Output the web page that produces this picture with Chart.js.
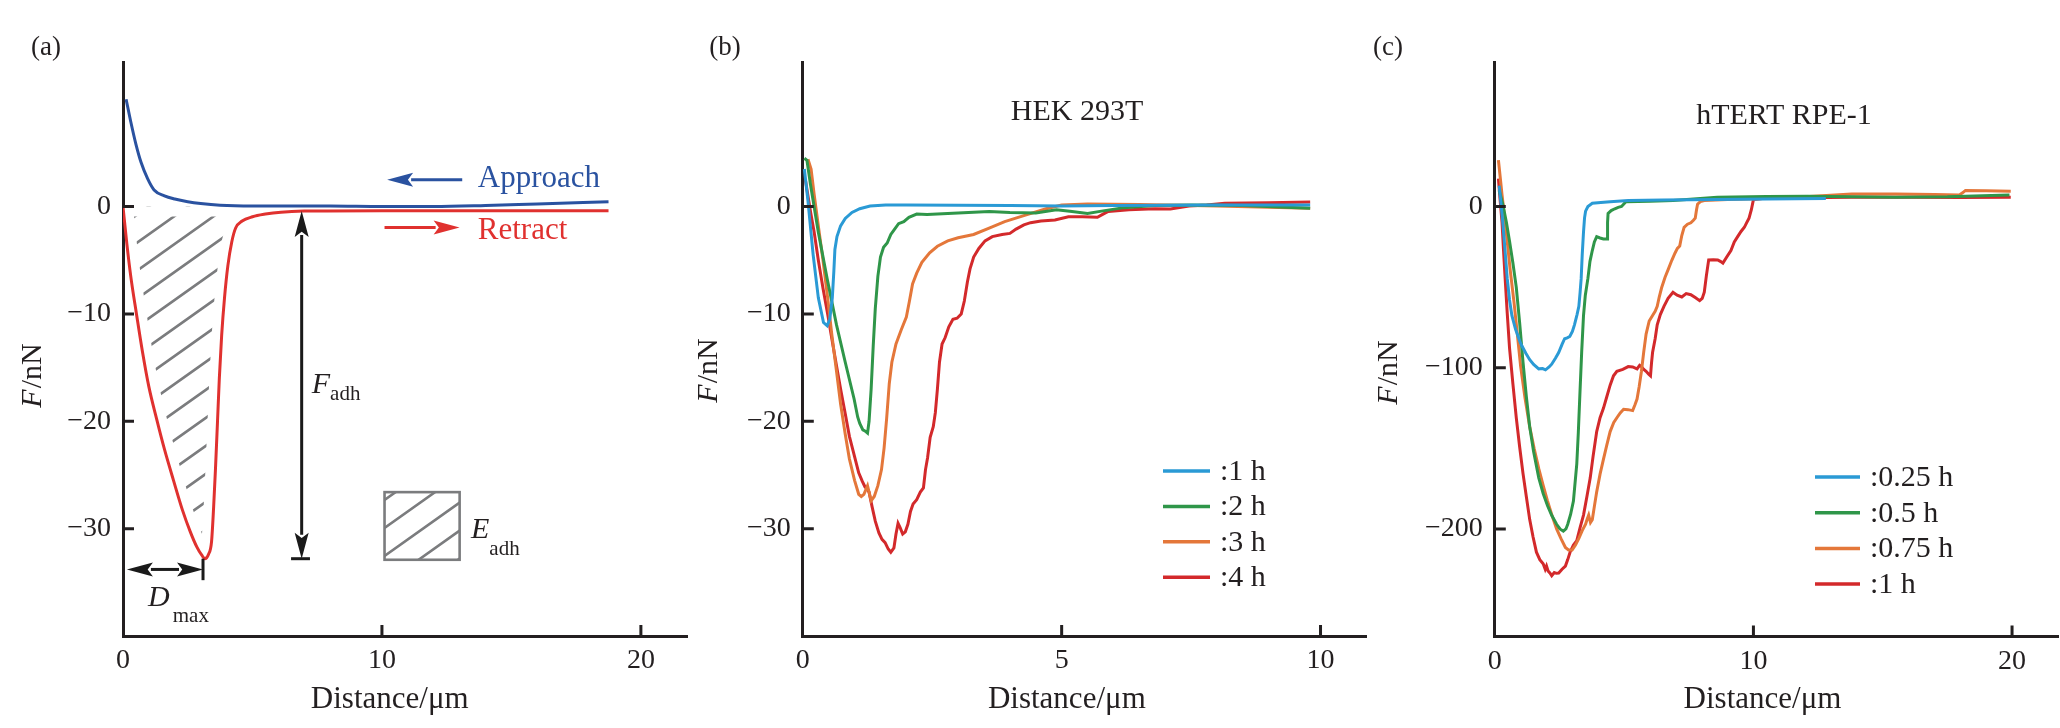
<!DOCTYPE html>
<html>
<head>
<meta charset="utf-8">
<script src="https://cdn.jsdelivr.net/npm/chart.js@4.4.1/dist/chart.umd.min.js"></script>
<style>
  body { margin: 0; background: #fff; width: 2060px; height: 728px; overflow: hidden; position: relative; }
  canvas { position: absolute; top: 0; }
</style>
</head>
<body>
<canvas id="panelA" width="700" height="728" style="left:0px"></canvas>
<canvas id="panelB" width="690" height="728" style="left:690px"></canvas>
<canvas id="panelC" width="690" height="728" style="left:1370px"></canvas>
<script>
const FONT = '"Liberation Serif", "Times New Roman", Times, serif';
const INK = '#231f20';
const HATCH = '#7b7c7e';

// ---- panel (a): schematic force curve ----
const aXTicks = [0, 10, 20];
const aYTicks = [0, -10, -20, -30];
const approachCurve = [[0.12, 10.0], [0.3, 7.9], [0.5, 5.8], [0.7, 4.1], [0.95, 2.6], [1.2, 1.55], [1.6, 1.0],
  [2.0, 0.7], [2.5, 0.45], [3.0, 0.28], [3.75, 0.12], [5, 0.05], [8, 0.05], [10, 0], [12, 0], [14, 0.1],
  [16, 0.25], [18.75, 0.45]];
const retractCurve = [[0, 0], [0.15, -3.5], [0.3, -6.5], [0.52, -10], [0.75, -13.5], [1.0, -16.8], [1.3, -19.8],
  [1.6, -22.6], [1.95, -25.5], [2.3, -28.3], [2.6, -30.3], [2.85, -31.7], [3.05, -32.5], [3.16, -32.8],
  [3.3, -32.4], [3.42, -31.2], [3.5, -28], [3.57, -24.5], [3.65, -20], [3.72, -16], [3.81, -12], [3.92, -8.5],
  [4.05, -5.5], [4.2, -3.3], [4.35, -2.0], [4.6, -1.35], [5.0, -0.95], [5.5, -0.7], [6.1, -0.52], [7.0, -0.42],
  [10, -0.38], [14, -0.38], [18.75, -0.38]];

// ---- panel (b): HEK 293T ----
const bXTicks = [0, 5, 10];
const bYTicks = [0, -10, -20, -30];
const hekLabels = [':1 h', ':2 h', ':3 h', ':4 h'];
const hek1h = [[0.03, 3.5], [0.1, 0.5], [0.2, -4.5], [0.3, -8.5], [0.4, -10.8], [0.47, -11.1], [0.52, -10.5],
  [0.57, -8.5], [0.6, -6.0], [0.62, -4.0], [0.66, -2.8], [0.73, -1.8], [0.82, -1.1], [0.95, -0.55], [1.1, -0.2],
  [1.3, 0.05], [1.6, 0.15], [2.0, 0.15], [3, 0.12], [4, 0.1], [5, 0.05], [6, 0.1], [7, 0.12], [8, 0.15],
  [9, 0.15], [9.8, 0.15]];
const hek2h = [[0.03, 4.5], [0.08, 4.3], [0.15, 2.0], [0.3, -2.4], [0.47, -6.7], [0.65, -11], [0.82, -14.5],
  [0.99, -17.9], [1.06, -19.6], [1.1, -20.2], [1.16, -20.8], [1.2, -20.9], [1.25, -21.1], [1.28, -20.0],
  [1.32, -17], [1.36, -13], [1.4, -9.5], [1.45, -6.5], [1.5, -4.7], [1.56, -3.8], [1.63, -3.4], [1.7, -2.6],
  [1.76, -2.2], [1.85, -1.6], [1.95, -1.4], [2.05, -1.0], [2.2, -0.7], [2.4, -0.75], [2.8, -0.65], [3.2, -0.55],
  [3.6, -0.45], [4.0, -0.55], [4.5, -0.6], [4.9, -0.3], [5.2, -0.45], [5.5, -0.65], [5.8, -0.4], [6.2, -0.1],
  [6.8, 0.1], [7.5, 0.15], [8.5, 0.1], [9.8, -0.15]];
const hek3h = [[0.1, 4.4], [0.16, 3.5], [0.22, 1.1], [0.3, -1.8], [0.39, -5], [0.48, -8.5], [0.56, -11.9],
  [0.65, -15.3], [0.73, -18.4], [0.82, -21.2], [0.9, -23.5], [1.0, -25.5], [1.08, -26.8], [1.13, -27.0],
  [1.18, -26.8], [1.25, -26.0], [1.29, -26.8], [1.32, -27.4], [1.38, -27.0], [1.45, -26.0], [1.52, -24.5],
  [1.57, -22.5], [1.62, -19.7], [1.67, -16.5], [1.72, -14.5], [1.8, -12.8], [1.9, -11.5], [2.0, -10.3],
  [2.06, -8.8], [2.12, -7.2], [2.2, -6.2], [2.3, -5.2], [2.45, -4.3], [2.6, -3.7], [2.8, -3.2], [3.0, -2.9],
  [3.3, -2.6], [3.6, -2.0], [3.9, -1.4], [4.3, -0.8], [4.7, -0.2], [5.0, 0.15], [5.5, 0.25], [6.5, 0.2],
  [8, 0.05], [9.8, -0.15]];
const hek4h = [[0.05, 2.5], [0.15, -0.5], [0.22, -2.4], [0.3, -5], [0.39, -7.6], [0.48, -10], [0.56, -12.3],
  [0.65, -14.8], [0.73, -17], [0.82, -19.3], [0.9, -21.4], [1.0, -23.3], [1.08, -24.8], [1.15, -25.6],
  [1.2, -26.1], [1.24, -26.3], [1.28, -26.6], [1.34, -28.0], [1.4, -29.3], [1.47, -30.4], [1.53, -31.0],
  [1.59, -31.3], [1.65, -31.9], [1.7, -32.2], [1.76, -31.8], [1.8, -30.5], [1.84, -29.5], [1.88, -29.9],
  [1.93, -30.5], [1.98, -30.3], [2.03, -29.6], [2.08, -28.4], [2.13, -27.7], [2.2, -27.3], [2.27, -26.6],
  [2.33, -26.2], [2.37, -24.5], [2.41, -23.4], [2.46, -21.5], [2.52, -20.5], [2.56, -19.2], [2.6, -17.0],
  [2.64, -14.5], [2.69, -12.8], [2.75, -12.2], [2.82, -11.2], [2.9, -10.5], [2.98, -10.4], [3.06, -10.0],
  [3.12, -8.8], [3.18, -7.0], [3.23, -5.8], [3.3, -4.7], [3.4, -3.9], [3.52, -3.2], [3.66, -2.8], [3.85, -2.6],
  [4.0, -2.5], [4.12, -2.1], [4.27, -1.7], [4.4, -1.5], [4.6, -1.35], [4.87, -1.25], [5.13, -0.95], [5.4, -0.95],
  [5.69, -1.0], [5.8, -0.7], [5.9, -0.45], [6.3, -0.3], [6.8, -0.2], [7.1, -0.22], [7.46, 0.05], [7.8, 0.15],
  [8.15, 0.3], [9, 0.35], [9.8, 0.42]];

// ---- panel (c): hTERT RPE-1 ----
const cXTicks = [0, 10, 20];
const cYTicks = [0, -100, -200];
const rpeLabels = [':0.25 h', ':0.5 h', ':0.75 h', ':1 h'];
const rpe025h = [[0.17, 13], [0.25, 0], [0.31, -10], [0.4, -28], [0.48, -44.6], [0.57, -58], [0.66, -67.6],
  [0.8, -76], [1.0, -85], [1.2, -91], [1.35, -95], [1.5, -98], [1.7, -100.7], [1.85, -100.5], [1.96, -101.3],
  [2.1, -99.5], [2.2, -97.8], [2.35, -94], [2.47, -90.6], [2.6, -85.5], [2.7, -82], [2.8, -81.5], [2.9, -80.6],
  [3.0, -77.5], [3.08, -73.4], [3.18, -67], [3.25, -61.9], [3.3, -53], [3.34, -44.6], [3.38, -30], [3.43, -15.8],
  [3.47, -7], [3.51, -2.9], [3.6, 0], [3.77, 2], [4.1, 2.5], [4.46, 2.9], [5.16, 3.7], [6.5, 4.0], [8.6, 4.3],
  [10.5, 4.6], [12.8, 4.9]];
const rpe05h = [[0.17, 10], [0.31, 1.4], [0.45, -10], [0.57, -21.6], [0.7, -35], [0.83, -50], [0.96, -72],
  [1.09, -96.4], [1.22, -118], [1.35, -136.7], [1.5, -152], [1.7, -168.3], [1.87, -178], [2.04, -185.6],
  [2.2, -191.5], [2.39, -197.1], [2.52, -200], [2.65, -201.4], [2.75, -200], [2.82, -197.1], [2.93, -191],
  [3.04, -182.7], [3.1, -172], [3.17, -159.7], [3.23, -140], [3.29, -116.5], [3.36, -90], [3.43, -67.6],
  [3.5, -55], [3.6, -44.6], [3.68, -34], [3.77, -27.3], [3.85, -22], [3.94, -18.7], [4.07, -19.5], [4.2, -20.1],
  [4.34, -20.1], [4.36, -10], [4.38, -4.3], [4.5, -2.5], [4.64, -1.4], [4.77, -0.5], [4.9, 0], [5.07, 2.9],
  [6.0, 3.3], [6.9, 3.7], [8.6, 5.8], [10.5, 6.2], [12.08, 6.3], [15.5, 5.8], [17.5, 6.0], [19.9, 7.2]];
const rpe075h = [[0.14, 28.8], [0.21, 18], [0.28, 7.2], [0.38, -7], [0.48, -21.6], [0.6, -40], [0.74, -59],
  [0.87, -79], [1.0, -99.3], [1.17, -119], [1.35, -136.7], [1.52, -150], [1.7, -162.6], [1.87, -173],
  [2.04, -182.7], [2.2, -191], [2.39, -200], [2.56, -206], [2.73, -211.5], [2.85, -213], [2.99, -213],
  [3.12, -210], [3.25, -205.8], [3.38, -201], [3.51, -197.1], [3.57, -194], [3.63, -191.4], [3.7, -196],
  [3.77, -194.2], [3.85, -186], [3.94, -177], [4.07, -166], [4.2, -156.8], [4.33, -148], [4.46, -139.6],
  [4.6, -134], [4.72, -131], [4.85, -128], [4.98, -125.8], [5.15, -126], [5.33, -126.6], [5.42, -123],
  [5.5, -119.4], [5.58, -112], [5.67, -102.2], [5.76, -90], [5.85, -79.1], [5.97, -71], [6.1, -67.6],
  [6.2, -65], [6.28, -61.9], [6.36, -56], [6.45, -50.4], [6.58, -44], [6.71, -38.8], [6.84, -33.5],
  [6.97, -28.8], [7.06, -26], [7.15, -24.5], [7.23, -18], [7.32, -12.9], [7.45, -11], [7.58, -10.1],
  [7.68, -8.5], [7.75, -7.2], [7.8, -2], [7.84, 1.4], [7.95, 3], [8.1, 3.7], [9, 4.3], [10.35, 4.9], [12, 6.0],
  [13.8, 7.8], [15.5, 7.8], [17.0, 7.4], [17.96, 7.2], [18.1, 8.6], [18.2, 10], [19, 9.8], [19.95, 9.5]];
const rpe1h = [[0.14, 17.3], [0.2, 5], [0.28, -10], [0.34, -28], [0.4, -44.6], [0.48, -66], [0.57, -87.8],
  [0.7, -110], [0.83, -131], [0.96, -149], [1.09, -165.5], [1.22, -180], [1.35, -194.2], [1.48, -205],
  [1.61, -214.4], [1.74, -219], [1.87, -221.6], [1.95, -225], [2.0, -223], [2.06, -226], [2.13, -227.3],
  [2.2, -229], [2.3, -227], [2.38, -227.5], [2.47, -227.3], [2.6, -225], [2.73, -223], [2.82, -219],
  [2.91, -214.4], [3.04, -210], [3.17, -207.2], [3.3, -199], [3.43, -191.4], [3.56, -180], [3.69, -168.3],
  [3.8, -155], [3.94, -139.6], [4.07, -131], [4.2, -125.2], [4.33, -118], [4.46, -110.8], [4.59, -105],
  [4.72, -102.2], [4.95, -101], [5.16, -99.3], [5.33, -99.5], [5.5, -100.7], [5.6, -98.5], [5.67, -99.3],
  [5.76, -101], [5.85, -102.2], [5.95, -104], [6.02, -105], [6.06, -97], [6.1, -90.6], [6.2, -82], [6.28, -73.4],
  [6.4, -67], [6.54, -61.9], [6.7, -57], [6.89, -53.2], [7.05, -55], [7.23, -56.1], [7.4, -54], [7.58, -54.7],
  [7.75, -56.5], [7.92, -58.4], [8.02, -57], [8.1, -53.2], [8.18, -43], [8.27, -33.1], [8.45, -33],
  [8.62, -33.1], [8.72, -34], [8.82, -35.1], [8.98, -31], [9.13, -27.3], [9.26, -22], [9.39, -18.7],
  [9.52, -15.5], [9.65, -12.9], [9.74, -10], [9.83, -7.2], [9.92, -2], [10.0, 4.3], [10.35, 4.9], [12, 5.5],
  [13.8, 5.8], [16, 5.8], [18, 5.6], [19.95, 5.8]];

const seriesColors = ['#2a9ad5', '#2f9649', '#e4773a', '#d3292b'];

// panel boxes in page pixels
const geoA = { left: 0, width: 700, areaLeft: 123, areaRight: 687.5, areaTop: 62.7, areaBottom: 636 };
const geoB = { left: 690, width: 690, areaLeft: 802.8, areaRight: 1366.6, areaTop: 62.7, areaBottom: 636 };
const geoC = { left: 1370, width: 690, areaLeft: 1494.8, areaRight: 2058.6, areaTop: 62.7, areaBottom: 636.5 };

const toPoints = arr => arr.map(p => ({ x: p[0], y: p[1] }));
const fmt = v => (v < 0 ? '\u2212' + (-v) : String(v));

function buildAxes(g, xMin, xMax, xTicks, yMin, yMax, yTicks) {
  const tickFont = { family: FONT, size: 28 };
  return {
    x: {
      type: 'linear', min: xMin, max: xMax,
      afterBuildTicks: s => { s.ticks = xTicks.map(v => ({ value: v })); },
      afterFit: s => { s.height = 728 - g.areaBottom; },
      grid: { display: false, drawTicks: false },
      border: { color: INK, width: 3 },
      ticks: { font: tickFont, color: INK, padding: 8, maxRotation: 0, autoSkip: false, callback: fmt }
    },
    y: {
      type: 'linear', min: yMin, max: yMax,
      afterBuildTicks: s => { s.ticks = yTicks.map(v => ({ value: v })); },
      afterFit: s => { s.width = g.areaLeft - g.left; },
      grid: { display: false, drawTicks: false },
      border: { color: INK, width: 3 },
      ticks: { font: tickFont, color: INK, padding: 12, autoSkip: false, callback: fmt }
    }
  };
}

// inward tick marks
const innerTicks = {
  id: 'innerTicks',
  afterDraw(chart) {
    const { ctx, chartArea: a, scales: { x, y } } = chart;
    ctx.save();
    ctx.strokeStyle = INK;
    ctx.lineWidth = 3;
    ctx.beginPath();
    x.ticks.forEach(t => {
      if (t.value === x.min) return;
      const px = x.getPixelForValue(t.value);
      ctx.moveTo(px, a.bottom); ctx.lineTo(px, a.bottom - 11);
    });
    y.ticks.forEach(t => {
      if (t.value === y.min) return;
      const py = y.getPixelForValue(t.value);
      ctx.moveTo(a.left, py); ctx.lineTo(a.left + 11, py);
    });
    ctx.stroke();
    ctx.restore();
  }
};

// panel letter, title and axis titles
const panelText = {
  id: 'panelText',
  afterDraw(chart, args, o) {
    const { ctx, scales: { x } } = chart;
    const off = o.left;
    ctx.save();
    ctx.fillStyle = INK;
    ctx.textBaseline = 'middle';
    ctx.textAlign = 'center';
    ctx.font = '27px ' + FONT;
    ctx.fillText(o.letter, o.letterPos[0] - off, o.letterPos[1]);
    if (o.title) {
      ctx.font = '30px ' + FONT;
      ctx.fillText(o.title, o.titlePos[0] - off, o.titlePos[1]);
    }
    ctx.font = '31px ' + FONT;
    ctx.fillText('Distance/\u03bcm', x.getPixelForValue(o.xTitleAt), 700);
    // rotated F/nN with italic F
    ctx.translate(o.yTitlePos[0] - off, o.yTitlePos[1]);
    ctx.rotate(-Math.PI / 2);
    ctx.textAlign = 'left';
    ctx.font = 'italic 30px ' + FONT;
    const wF = ctx.measureText('F').width;
    ctx.font = '30px ' + FONT;
    const wR = ctx.measureText('/nN').width;
    const start = -(wF + wR) / 2;
    ctx.font = 'italic 30px ' + FONT;
    ctx.fillText('F', start, 0);
    ctx.font = '30px ' + FONT;
    ctx.fillText('/nN', start + wF + 1, 0);
    ctx.restore();
  }
};

// legend drawn inside the plot
const innerLegend = {
  id: 'innerLegend',
  afterDraw(chart, args, o) {
    const { ctx } = chart;
    const x0 = o.x - o.left;
    ctx.save();
    ctx.textBaseline = 'middle';
    ctx.textAlign = 'left';
    ctx.font = '30px ' + FONT;
    chart.data.datasets.forEach((ds, i) => {
      const yy = o.y + i * o.step;
      ctx.strokeStyle = ds.borderColor;
      ctx.lineWidth = 3.5;
      ctx.beginPath();
      ctx.moveTo(x0, yy); ctx.lineTo(x0 + o.len, yy);
      ctx.stroke();
      ctx.fillStyle = INK;
      ctx.fillText(ds.label, x0 + o.len + 10, yy + 1);
    });
    ctx.restore();
  }
};

function arrow(ctx, x1, y1, x2, y2, color, headStart, headEnd) {
  const ang = Math.atan2(y2 - y1, x2 - x1);
  const hl = 26, hw = 7;
  ctx.save();
  ctx.strokeStyle = color; ctx.fillStyle = color; ctx.lineWidth = 3;
  const sx = headStart ? x1 + Math.cos(ang) * (hl - 2) : x1;
  const sy = headStart ? y1 + Math.sin(ang) * (hl - 2) : y1;
  const ex = headEnd ? x2 - Math.cos(ang) * (hl - 2) : x2;
  const ey = headEnd ? y2 - Math.sin(ang) * (hl - 2) : y2;
  ctx.beginPath(); ctx.moveTo(sx, sy); ctx.lineTo(ex, ey); ctx.stroke();
  const head = (tx, ty, a) => {
    ctx.beginPath();
    ctx.moveTo(tx, ty);
    ctx.lineTo(tx - Math.cos(a) * hl - Math.sin(a) * hw, ty - Math.sin(a) * hl + Math.cos(a) * hw);
    ctx.lineTo(tx - Math.cos(a) * hl * 0.8, ty - Math.sin(a) * hl * 0.8);
    ctx.lineTo(tx - Math.cos(a) * hl + Math.sin(a) * hw, ty - Math.sin(a) * hl - Math.cos(a) * hw);
    ctx.closePath(); ctx.fill();
  };
  if (headEnd) head(x2, y2, ang);
  if (headStart) head(x1, y1, ang + Math.PI);
  ctx.restore();
}

function hatchLines(ctx, x0, x1, yTop, yBot, phase) {
  const k = 0.71, step = 28;
  ctx.beginPath();
  for (let c = phase - 40 * step; c < yBot + k * x1 + step; c += step) {
    if (c - k * x1 > yBot + 5 || c - k * x0 < yTop - 5) continue;
    ctx.moveTo(x0, c - k * x0);
    ctx.lineTo(x1, c - k * x1);
  }
  ctx.stroke();
}

function subLabel(ctx, x, base, main, sub, drop, gap) {
  ctx.save();
  ctx.fillStyle = INK;
  ctx.textBaseline = 'alphabetic';
  ctx.textAlign = 'left';
  ctx.font = 'italic 30px ' + FONT;
  ctx.fillText(main, x, base);
  const w = ctx.measureText(main).width;
  ctx.font = '21px ' + FONT;
  ctx.fillText(sub, x + w + gap, base + drop);
  ctx.restore();
}

// hatched adhesion area under the retract curve (panel a)
const hatchArea = {
  id: 'hatchArea',
  beforeDatasetsDraw(chart) {
    const { ctx, scales: { x, y } } = chart;
    const end = 4.6;
    const path = new Path2D();
    retractCurve.filter(p => p[0] <= end).forEach((p, i) => {
      const px = x.getPixelForValue(p[0]), py = y.getPixelForValue(p[1]);
      if (i === 0) path.moveTo(px, py); else path.lineTo(px, py);
    });
    path.lineTo(x.getPixelForValue(end), y.getPixelForValue(0));
    path.closePath();
    ctx.save();
    ctx.clip(path);
    ctx.strokeStyle = HATCH;
    ctx.lineWidth = 2.6;
    hatchLines(ctx, x.getPixelForValue(0), x.getPixelForValue(end), y.getPixelForValue(0), y.getPixelForValue(-34), 340);
    ctx.strokeStyle = '#ffffff';
    ctx.lineWidth = 20;
    ctx.stroke(path);
    ctx.restore();
  },
  afterDraw(chart) {
    const { ctx, scales: { x, y } } = chart;
    const px = v => x.getPixelForValue(v), py = v => y.getPixelForValue(v);
    // Approach / Retract keys
    arrow(ctx, px(13.1), py(2.5), px(10.2), py(2.5), '#2a52a0', false, true);
    arrow(ctx, px(10.1), py(-1.95), px(13.0), py(-1.95), '#e0312f', false, true);
    ctx.save();
    ctx.font = '31px ' + FONT;
    ctx.textBaseline = 'middle';
    ctx.textAlign = 'left';
    ctx.fillStyle = '#2a52a0';
    ctx.fillText('Approach', px(13.7), py(2.6));
    ctx.fillStyle = '#e0312f';
    ctx.fillText('Retract', px(13.7), py(-2.25));
    ctx.restore();
    // F_adh double arrow with end bar
    arrow(ctx, px(6.9), py(-0.42), px(6.9), py(-32.8), '#1a1a1a', true, true);
    ctx.save();
    ctx.strokeStyle = '#1a1a1a'; ctx.lineWidth = 3;
    ctx.beginPath();
    ctx.moveTo(px(6.49), py(-32.8)); ctx.lineTo(px(7.22), py(-32.8));
    ctx.stroke();
    // D_max end bar
    ctx.beginPath();
    ctx.moveTo(px(3.09), py(-32.8)); ctx.lineTo(px(3.09), py(-34.8));
    ctx.stroke();
    ctx.restore();
    arrow(ctx, px(0.15), py(-33.8), px(3.09), py(-33.8), '#1a1a1a', true, true);
    subLabel(ctx, px(7.29), py(-17.34), 'F', 'adh', 7, 0);
    subLabel(ctx, px(0.97), py(-37.2), 'D', 'max', 16, 3);
    // E_adh hatched key box
    const bx0 = px(10.1), bx1 = px(13.0), by0 = py(-26.6), by1 = py(-32.9);
    ctx.save();
    ctx.beginPath(); ctx.rect(bx0, by0, bx1 - bx0, by1 - by0); ctx.clip();
    ctx.strokeStyle = HATCH; ctx.lineWidth = 2.6;
    hatchLines(ctx, bx0, bx1, by0, by1, 773);
    ctx.restore();
    ctx.save();
    ctx.strokeStyle = HATCH; ctx.lineWidth = 2.6;
    ctx.strokeRect(bx0, by0, bx1 - bx0, by1 - by0);
    ctx.restore();
    subLabel(ctx, px(13.44), py(-30.9), 'E', 'adh', 16.5, 0);
  }
};

const common = (g, scales, extra) => ({
  animation: false,
  responsive: false,
  devicePixelRatio: 1,
  layout: { padding: { left: 0, right: g.left + g.width - g.areaRight, top: g.areaTop, bottom: 0 } },
  elements: { point: { radius: 0 }, line: { borderWidth: 3 } },
  scales: scales,
  plugins: Object.assign({ legend: { display: false }, tooltip: { enabled: false } }, extra)
});

new Chart(document.getElementById('panelA'), {
  type: 'line',
  data: {
    datasets: [
      { label: 'Approach', data: toPoints(approachCurve), borderColor: '#2a52a0', cubicInterpolationMode: 'monotone' },
      { label: 'Retract', data: toPoints(retractCurve), borderColor: '#e0312f', cubicInterpolationMode: 'monotone' }
    ]
  },
  options: common(geoA, buildAxes(geoA, 0, 21.8, aXTicks, -40, 13.4, aYTicks), {
    panelText: { left: geoA.left, letter: '(a)', letterPos: [46, 48], yTitlePos: [33, 376], xTitleAt: 10.3 }
  }),
  plugins: [hatchArea, innerTicks, panelText]
});

new Chart(document.getElementById('panelB'), {
  type: 'line',
  data: {
    datasets: [hek1h, hek2h, hek3h, hek4h].map((s, i) => ({
      label: hekLabels[i], data: toPoints(s), borderColor: seriesColors[i], tension: 0
    }))
  },
  options: common(geoB, buildAxes(geoB, 0, 10.89, bXTicks, -40, 13.4, bYTicks), {
    panelText: { left: geoB.left, letter: '(b)', letterPos: [725, 48], title: 'HEK 293T', titlePos: [1077, 112],
      yTitlePos: [709, 371], xTitleAt: 5.1 },
    innerLegend: { left: geoB.left, x: 1163, y: 471, step: 35.4, len: 47 }
  }),
  plugins: [innerTicks, panelText, innerLegend]
});

new Chart(document.getElementById('panelC'), {
  type: 'line',
  data: {
    datasets: [rpe025h, rpe05h, rpe075h, rpe1h].map((s, i) => ({
      label: rpeLabels[i], data: toPoints(s), borderColor: seriesColors[i], tension: 0
    }))
  },
  options: common(geoC, buildAxes(geoC, 0, 21.8, cXTicks, -266.7, 89.2, cYTicks), {
    panelText: { left: geoC.left, letter: '(c)', letterPos: [1388, 48], title: 'hTERT RPE-1', titlePos: [1784, 116],
      yTitlePos: [1389, 373], xTitleAt: 10.35 },
    innerLegend: { left: geoC.left, x: 1815, y: 477, step: 35.7, len: 45 }
  }),
  plugins: [innerTicks, panelText, innerLegend]
});
</script>
</body>
</html>
